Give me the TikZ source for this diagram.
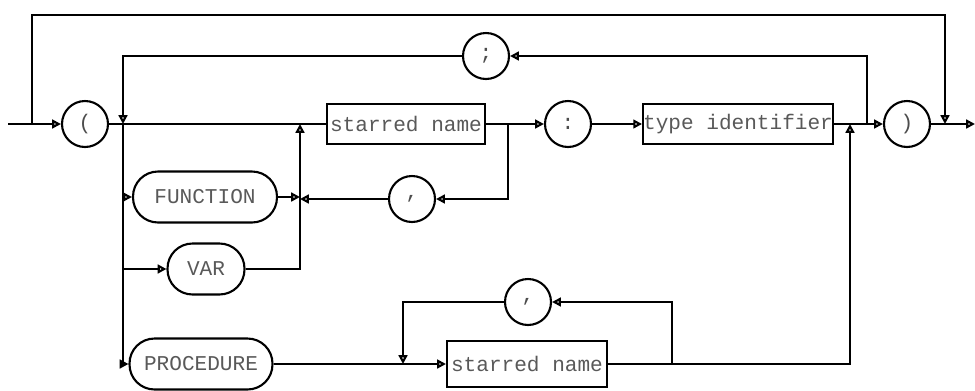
\documentclass[tikz,border=0pt]{standalone}
\usepackage{fontspec}
\setmonofont{Liberation Mono}
\usetikzlibrary{arrows.meta,positioning}

\tikzset{
    syn/.style={line width=1.2pt, -{Triangle[open,length=5pt,width=5pt]}},
    term/.style={draw, line width=1.2pt, circle, minimum size=0.92cm, inner sep=0pt, font=\ttfamily\large, text=black!70},
    word/.style={draw, line width=1.2pt, rounded corners=0.5cm, minimum height=1.02cm, inner sep=0pt, font=\ttfamily\large, text=black!65},
    nonterm/.style={draw, line width=1.2pt, rectangle, minimum height=0.8cm, inner sep=0pt, font=\ttfamily\large, text=black!65}
}

\begin{document}
\begin{tikzpicture}[x=0.02cm, y=-0.02cm]
    \useasboundingbox (0,0) rectangle (975,390);

    % Symbols on the main line
    \node[term] (lpar) at (85,124) {(};
    \node[nonterm, minimum width=3.16cm] (name) at (406,124) {starred name};
    \node[term] (colon) at (568,124) {:};
    \node[nonterm, minimum width=3.74cm] (type) at (738,124) {type identifier};
    \node[term] (rpar) at (907,124) {)};
    \node[term] (semi) at (486,56) {;};

    % Kinds of parameter
    \node[word, minimum width=2.88cm] (func) at (205,197) {FUNCTION};
    \node[word, minimum width=1.54cm] (var) at (206,269) {VAR};
    \node[word, minimum width=2.86cm] (proc) at (201,364) {PROCEDURE};
    \node[term] (comma) at (412,199) {,};

    % Procedure names
    \node[nonterm, minimum width=3.2cm, minimum height=0.92cm] (pname) at (527,364) {starred name};
    \node[term] (pcomma) at (528,302) {,};

    % Junctions
    \coordinate (in) at (8,124);
    \coordinate (out) at (975,124);
    \coordinate (skip) at (32,124);
    \coordinate (skipend) at (945,124);
    \coordinate (again) at (123,124);
    \coordinate (againstart) at (867,124);
    \coordinate (join) at (300,124);
    \coordinate (list) at (508,124);
    \coordinate (pjoin) at (850,124);
    \coordinate (plist) at (672,364);
    \coordinate (pback) at (403,364);

    % Main line
    \draw[syn] (in) -- (lpar);
    \draw[line width=1.2pt] (lpar) -- (name);
    \draw[syn] (name) -- (colon);
    \draw[syn] (colon) -- (type);
    \draw[syn] (type) -- (rpar);
    \draw[syn] (rpar) -- (out);

    % Empty list and repeat loops
    \draw[syn] (skip) |- (475,15) -| (skipend);
    \draw[syn] (againstart) |- (semi);
    \draw[syn] (semi) -| (again);

    % Branches to the kinds
    \draw[line width=1.2pt] (again) -- (123,330);
    \draw[syn] (123,197) -- (func);
    \draw[syn] (123,269) -- (var);
    \draw[syn] (123,330) |- (proc);
    \draw[syn] (func) -- (300,197);
    \draw[syn] (var) -| (join);

    % Comma loop of names
    \draw[syn] (list) |- (comma);
    \draw[syn] (comma) -- (300,199);

    % Procedure branch
    \draw[syn] (proc) -- (pname);
    \draw[syn] (plist) |- (pcomma);
    \draw[syn] (pcomma) -| (pback);
    \draw[syn] (pname) -| (pjoin);
\end{tikzpicture}
\end{document}
